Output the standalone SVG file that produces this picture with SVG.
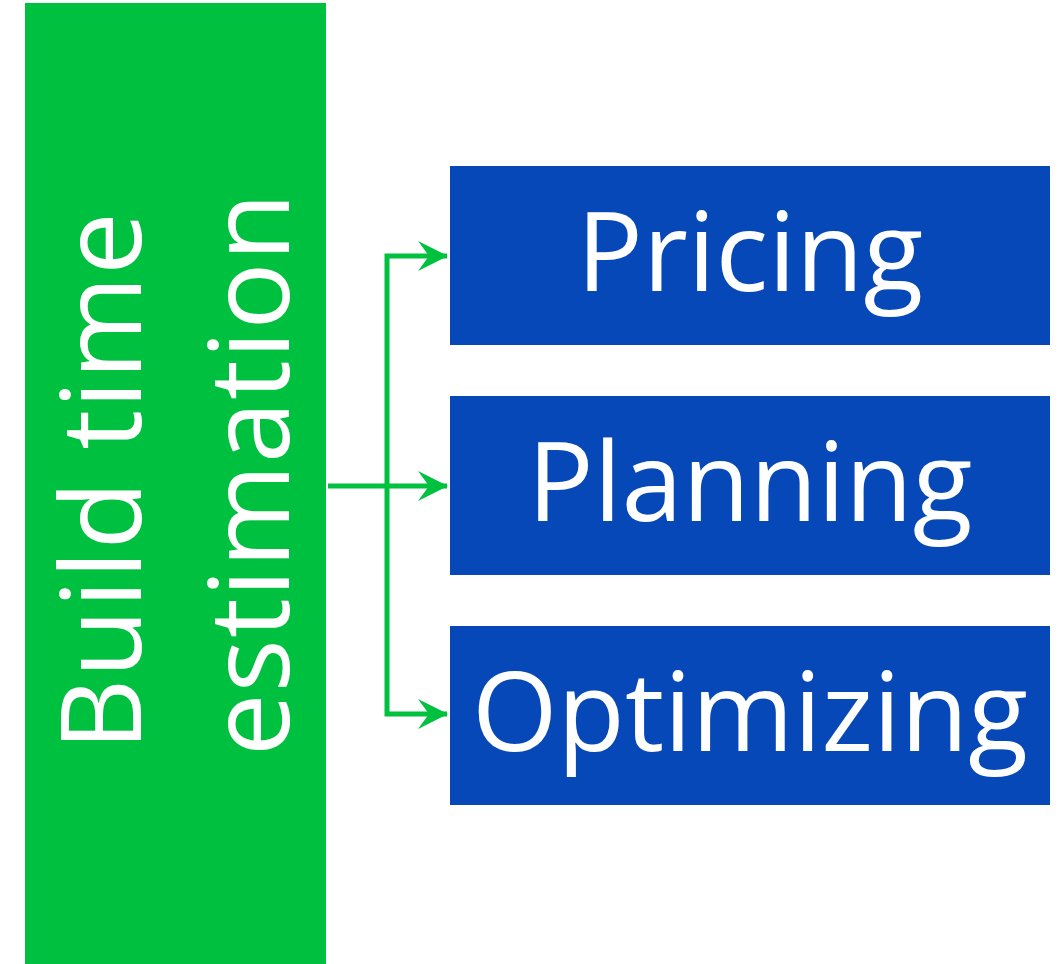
<svg xmlns="http://www.w3.org/2000/svg" width="1058" height="964" viewBox="0 0 1058 964">
<style>
.t{font-family:"Open Sans","Liberation Sans",sans-serif;fill:#fff;font-size:110px;text-anchor:middle}
.v{font-size:112px;letter-spacing:1px}
.box{fill:#0748B8}
.conn{stroke:#00C13F;stroke-width:5;fill:none}
</style>
<defs>
<marker id="ah" markerUnits="userSpaceOnUse" markerWidth="32" markerHeight="34" refX="29" refY="16" orient="auto" viewBox="0 0 32 32">
<path d="M0,1 L30,16 L0,31 L11,16 Z" fill="#00C13F"/>
</marker>
</defs>
<rect width="1058" height="964" fill="#fff"/>
<g id="build">
<rect x="25" y="3" width="301" height="961" fill="#00C13F"/>
<text class="t v" transform="translate(141,481) rotate(-90)">Build time</text>
<text class="t v" transform="translate(289,474) rotate(-90)">estimation</text>
</g>
<g id="pricing">
<rect class="box" x="450" y="166" width="600" height="179"/>
<text class="t" x="750" y="291">Pricing</text>
</g>
<g id="planning">
<rect class="box" x="450" y="396" width="600" height="179"/>
<text class="t" x="750" y="521">Planning</text>
</g>
<g id="optimizing">
<rect class="box" x="450" y="626" width="600" height="179"/>
<text class="t" x="750" y="751">Optimizing</text>
</g>
<g id="connectors">
<line class="conn" x1="328" y1="486" x2="447" y2="486" marker-end="url(#ah)"/>
<polyline class="conn" points="387,486 387,256 447,256" marker-end="url(#ah)"/>
<polyline class="conn" points="387,486 387,714 447,714" marker-end="url(#ah)"/>
</g>
</svg>
